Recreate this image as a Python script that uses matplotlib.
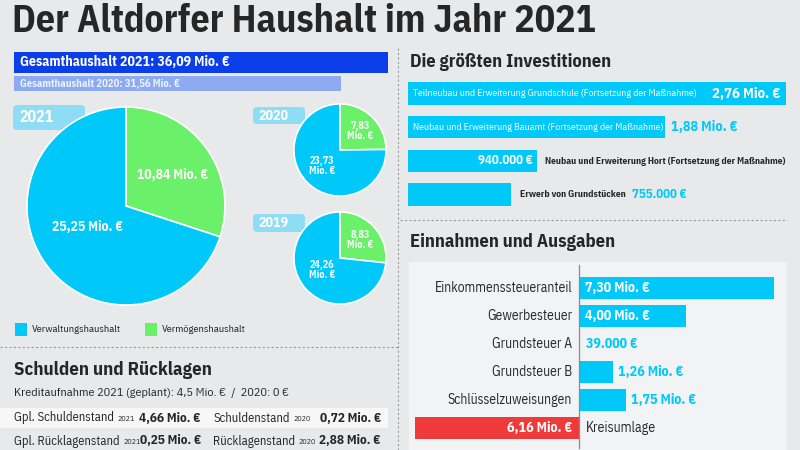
import matplotlib
matplotlib.use('Agg')
import matplotlib.pyplot as plt
from matplotlib.patches import FancyBboxPatch, Rectangle

plt.rcParams['font.family'] = ['IBM Plex Sans Condensed', 'DejaVu Sans']

# ---------------- data ----------------
title = "Der Altdorfer Haushalt im Jahr 2021"

total_labels = ["Gesamthaushalt 2021: 36,09 Mio. €", "Gesamthaushalt 2020: 31,56 Mio. €"]
total_values = [36.09, 31.56]

pie_years = ["2021", "2020", "2019"]
verm_values = [10.84, 7.83, 8.83]      # Vermögenshaushalt (green)
verw_values = [25.25, 23.73, 24.26]    # Verwaltungshaushalt (blue)
verm_labels = ["10,84 Mio. €", "7,83\nMio. €", "8,83\nMio. €"]
verw_labels = ["25,25 Mio. €", "23,73\nMio. €", "24,26\nMio. €"]
legend_labels = ["Verwaltungshaushalt", "Vermögenshaushalt"]

debt_title = "Schulden und Rücklagen"
credit_text = "Kreditaufnahme 2021 (geplant): 4,5 Mio. €  /  2020: 0 €"
debt_labels_2021 = ["Gpl. Schuldenstand", "Gpl. Rücklagenstand"]
debt_values_2021 = ["4,66 Mio. €", "0,25 Mio. €"]
debt_labels_2020 = ["Schuldenstand", "Rücklagenstand"]
debt_values_2020 = ["0,72 Mio. €", "2,88 Mio. €"]

inv_title = "Die größten Investitionen"
inv_names = ["Teilneubau und Erweiterung Grundschule (Fortsetzung der Maßnahme)",
             "Neubau und Erweiterung Bauamt (Fortsetzung der Maßnahme)",
             "Neubau und Erweiterung Hort (Fortsetzung der Maßnahme)",
             "Erwerb von Grundstücken"]
inv_values = [2.76, 1.88, 0.94, 0.755]
inv_value_labels = ["2,76 Mio. €", "1,88 Mio. €", "940.000 €", "755.000 €"]

ein_title = "Einnahmen und Ausgaben"
ein_names = ["Einkommenssteueranteil", "Gewerbesteuer", "Grundsteuer A",
             "Grundsteuer B", "Schlüsselzuweisungen", "Kreisumlage"]
ein_values = [7.30, 4.00, 0.039, 1.26, 1.75, -6.16]
ein_value_labels = ["7,30 Mio. €", "4,00 Mio. €", "39.000 €", "1,26 Mio. €",
                    "1,75 Mio. €", "6,16 Mio. €"]

# ---------------- style ----------------
BG = '#e8e9eb'
PANEL = '#f2f3f5'
CYAN = '#00c8f8'
GREEN = '#6bf06a'
DBLUE = '#0b3de8'
LBLUE = '#8eaaf0'
BOX = '#8fdcf5'
RED = '#ef3a3a'
DARK = '#262626'
DASH = '#9a9a9a'

W, H = 800, 450
fig = plt.figure(figsize=(8, 4.5), dpi=100)
fig.patch.set_facecolor(BG)


def px_axes(x0, y0, x1, y1):
    a = fig.add_axes([x0 / W, 1 - y1 / H, (x1 - x0) / W, (y1 - y0) / H])
    a.set_axis_off()
    a.patch.set_alpha(0)
    return a


# background layer (pixel coordinates, y downwards)
ax0 = px_axes(0, 0, W, H)
ax0.set_xlim(0, W)
ax0.set_ylim(H, 0)

# separators
ax0.plot([398, 398], [48, 450], ls=(0, (2, 2)), color=DASH, lw=0.8)
ax0.plot([0, 398], [347, 347], ls=(0, (2, 2)), color=DASH, lw=0.8)
ax0.plot([400, 787], [220, 220], ls=(0, (2, 2)), color=DASH, lw=0.8)

# year label boxes (behind the pies)
year_boxes = [(13, 105, 85, 130), (253, 107, 305, 124), (253, 214, 305, 232)]
for bx0, by0, bx1, by1 in year_boxes:
    ax0.add_patch(FancyBboxPatch((bx0, by0), bx1 - bx0, by1 - by0,
                                 boxstyle='round,pad=0,rounding_size=4',
                                 fc=BOX, ec='none'))

ax0.add_patch(Rectangle((0, 408), 388, 20, fc='#f7f7f8', ec='none'))
ax0.add_patch(Rectangle((409, 262), 378, 188, fc=PANEL, ec='none'))

# ---------------- Gesamthaushalt bars ----------------
axg = px_axes(14, 52, 388, 91)
axg.set_xlim(0, total_values[0])
axg.set_ylim(91 - 52, 0)
axg.barh([10.5, 31.5], total_values, height=[21, 15], color=[DBLUE, LBLUE])

# ---------------- pies ----------------
pie_geom = [(126, 206, 101), (340, 150, 47), (340, 258, 47)]
for (cx, cy, r), gv, bv in zip(pie_geom, verm_values, verw_values):
    ap = px_axes(cx - r, cy - r, cx + r, cy + r)
    ap.pie([gv, bv], colors=[GREEN, CYAN], startangle=90, counterclock=False,
           radius=1, wedgeprops=dict(edgecolor='white', linewidth=1.2))
    ap.set_xlim(-1.02, 1.02)
    ap.set_ylim(-1.02, 1.02)
    ap.set_axis_off()

# ---------------- Investitionen ----------------
axi = px_axes(408, 80, 786, 208)
axi.set_xlim(0, inv_values[0])
axi.set_ylim(208 - 80, 0)
inv_y = [13.5, 47, 81, 114.5]
axi.barh(inv_y, inv_values, height=22.5, color=CYAN)

# ---------------- Einnahmen und Ausgaben ----------------
scale = 26.7   # px per Mio. €
axe = px_axes(409, 262, 787, 450)
axe.set_xlim(-(579 - 409) / scale, (787 - 579) / scale)
axe.set_ylim(5.79, -0.93)
ypos = list(range(len(ein_values)))
cols = [CYAN if v >= 0 else RED for v in ein_values]
axe.barh(ypos, ein_values, height=0.76, color=cols)
axe.axvline(0, ymin=0.01, ymax=0.985, color='#8a8a8a', lw=0.9)

# ---------------- text overlay ----------------
axT = px_axes(0, 0, W, H)
axT.set_xlim(0, W)
axT.set_ylim(H, 0)

axT.text(12, 32, title, fontsize=27.3, fontweight='bold', color=DARK, va='baseline')

axT.text(20, 62.5, total_labels[0], fontsize=10, fontweight='bold', color='white', va='center')
axT.text(20, 84, total_labels[1], fontsize=7.6, fontweight='bold', color='#eef2ff', va='center')

year_text = [(20, 117, 11.5), (258, 116, 10), (258, 223, 10)]
for (tx, ty, fs), yr in zip(year_text, pie_years):
    axT.text(tx, ty, yr, fontsize=fs, fontweight='bold', color='white', va='center')

axT.text(173, 175, verm_labels[0], fontsize=9.8, fontweight='bold', color='white', ha='center', va='center')
axT.text(87, 227, verw_labels[0], fontsize=9.8, fontweight='bold', color='white', ha='center', va='center')
small_pos = [((360, 131), (322, 166)), ((360, 240), (322, 270))]
for k, ((gx, gy), (bx, by)) in enumerate(small_pos, start=1):
    axT.text(gx, gy, verm_labels[k], fontsize=7.3, fontweight='bold', color='white',
             ha='center', va='center', linespacing=1.05)
    axT.text(bx, by, verw_labels[k], fontsize=7.3, fontweight='bold', color='white',
             ha='center', va='center', linespacing=1.05)

for lx, col, lab in [(15, CYAN, legend_labels[0]), (145, GREEN, legend_labels[1])]:
    axT.add_patch(Rectangle((lx, 323), 12, 13, fc=col, ec='none'))
    axT.text(lx + 17, 330, lab, fontsize=7.5, color=DARK, va='center')

axT.text(14, 370, debt_title, fontsize=13.5, fontweight='bold', color=DARK, va='center')
axT.text(14, 393, credit_text, fontsize=8.8, color=DARK, va='center')
row_y = [418, 441]
for i, y in enumerate(row_y):
    t1 = axT.text(14, y, debt_labels_2021[i], fontsize=9, color=DARK, va='center')
    axT.annotate("2021", xy=(1, 0.5), xycoords=t1, xytext=(2.5, -1), textcoords='offset points',
                 fontsize=5.8, color=DARK, va='center')
    axT.text(201, y, debt_values_2021[i], fontsize=9.5, fontweight='bold', color=DARK, ha='right', va='center')
    t2 = axT.text(213, y, debt_labels_2020[i], fontsize=9, color=DARK, va='center')
    axT.annotate("2020", xy=(1, 0.5), xycoords=t2, xytext=(2.5, -1), textcoords='offset points',
                 fontsize=5.8, color=DARK, va='center')
    axT.text(381, y, debt_values_2020[i], fontsize=9.5, fontweight='bold', color=DARK, ha='right', va='center')

axT.text(410, 62, inv_title, fontsize=13.2, fontweight='bold', color=DARK, va='center')
axT.text(410, 242, ein_title, fontsize=13.3, fontweight='bold', color=DARK, va='center')

# investment bar annotations (anchored to the bar data)
axi.annotate(inv_names[0], xy=(0, inv_y[0]), xytext=(3.5, 0), textcoords='offset points',
             fontsize=7, color='white', va='center')
axi.annotate(inv_value_labels[0], xy=(inv_values[0], inv_y[0]), xytext=(-4, 0), textcoords='offset points',
             fontsize=10.5, fontweight='bold', color='white', va='center', ha='right')
axi.annotate(inv_names[1], xy=(0, inv_y[1]), xytext=(3.5, 0), textcoords='offset points',
             fontsize=7, color='white', va='center')
axi.annotate(inv_value_labels[1], xy=(inv_values[1], inv_y[1]), xytext=(4, 0), textcoords='offset points',
             fontsize=10.2, fontweight='bold', color=CYAN, va='center')
axi.annotate(inv_value_labels[2], xy=(inv_values[2], inv_y[2]), xytext=(-3, 0), textcoords='offset points',
             fontsize=9.2, fontweight='bold', color='white', va='center', ha='right')
axi.annotate(inv_names[2], xy=(inv_values[2], inv_y[2]), xytext=(6, 0), textcoords='offset points',
             fontsize=6.8, fontweight='bold', color=DARK, va='center')
t4 = axi.annotate(inv_names[3], xy=(inv_values[3], inv_y[3]), xytext=(6, 0), textcoords='offset points',
                  fontsize=6.8, fontweight='bold', color=DARK, va='center')
axi.annotate(inv_value_labels[3], xy=(1, 0.5), xycoords=t4, xytext=(5, 0), textcoords='offset points',
             fontsize=9.2, fontweight='bold', color=CYAN, va='center')

for y, v, name, lab in zip(ypos, ein_values, ein_names, ein_value_labels):
    if v >= 0:
        axe.annotate(name, xy=(0, y), xytext=(-5, 0), textcoords='offset points',
                     fontsize=9.8, color=DARK, ha='right', va='center')
        if v > 3:
            axe.annotate(lab, xy=(0, y), xytext=(4, 0), textcoords='offset points',
                         fontsize=10, fontweight='bold', color='white', va='center')
        else:
            axe.annotate(lab, xy=(v, y), xytext=(4, 0), textcoords='offset points',
                         fontsize=10, fontweight='bold', color=CYAN, va='center')
    else:
        axe.annotate(name, xy=(0, y), xytext=(5, 0), textcoords='offset points',
                     fontsize=10, color=DARK, ha='left', va='center')
        axe.annotate(lab, xy=(0, y), xytext=(-4.5, 0), textcoords='offset points',
                     fontsize=10, fontweight='bold', color='white', ha='right', va='center')

fig.savefig('out.png', dpi=100, facecolor=BG)
